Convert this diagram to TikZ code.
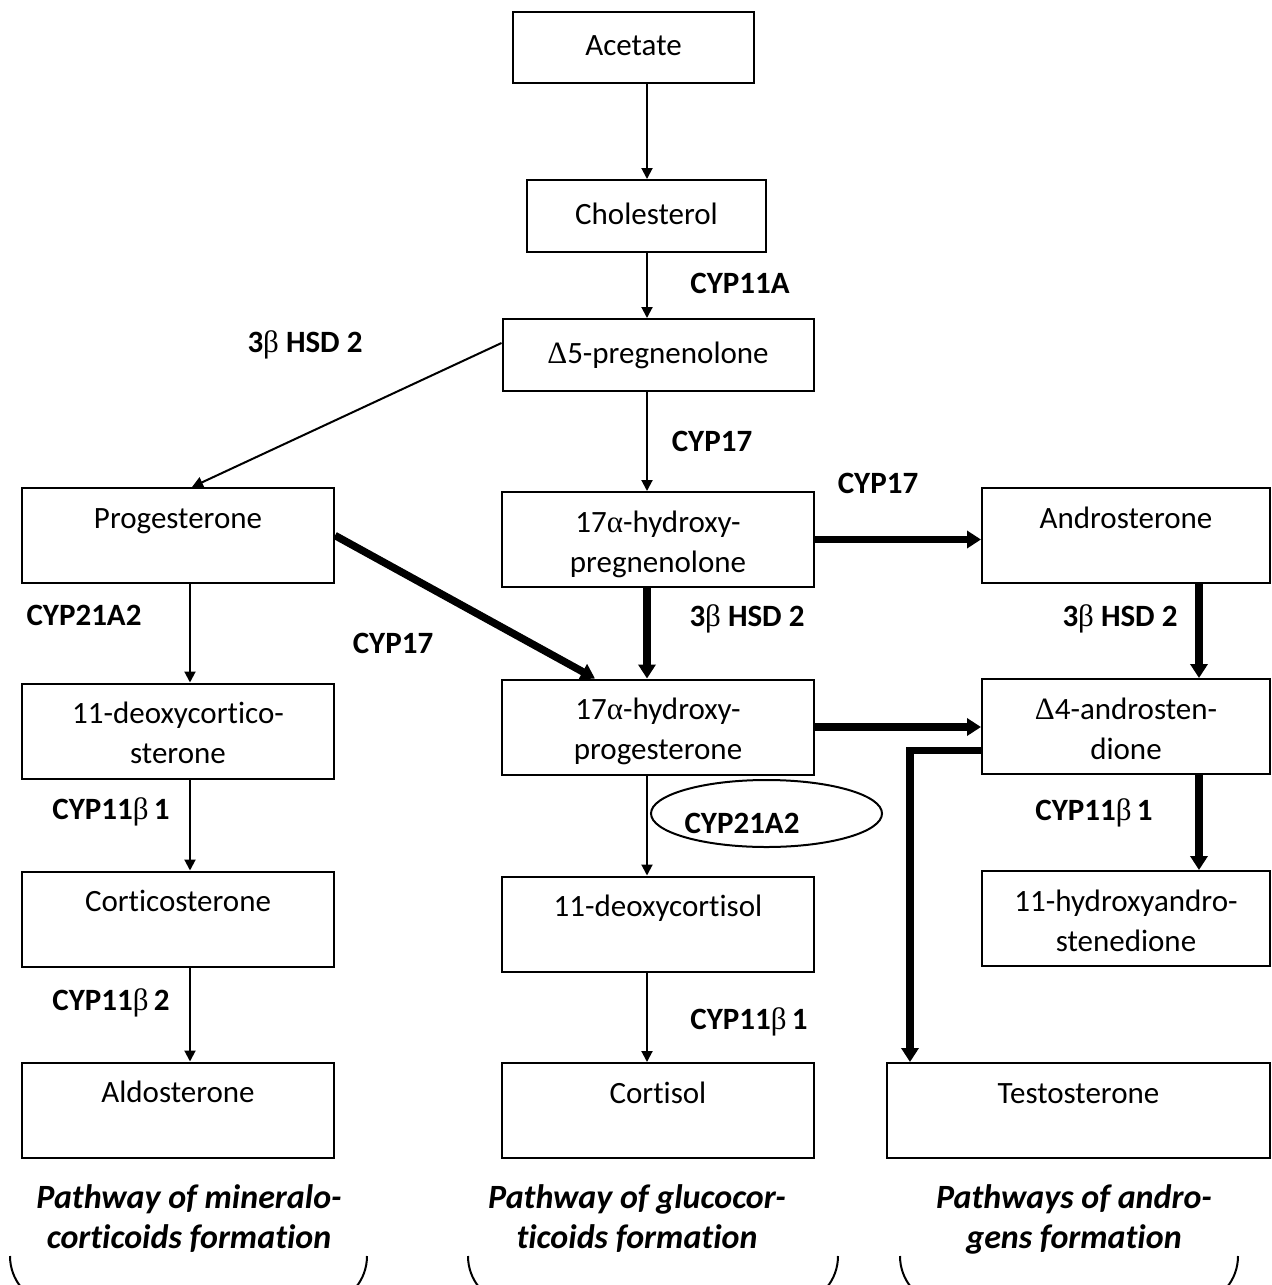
\documentclass[tikz,border=0pt]{standalone}
\usepackage{fontspec}
\setmainfont{Carlito}[Ligatures=CommonOff]
\newfontfamily\grkfont{Liberation Serif}
\newcommand{\grk}[1]{{\grkfont\mdseries #1}}
% first line sits high in the tall boxes, second line may stay empty
\newcommand{\twoline}[2]{\rule{0pt}{17.5pt}#1\\#2\rule[-5pt]{0pt}{5pt}}
\usetikzlibrary{arrows.meta,shapes.geometric}

\begin{document}
\begin{tikzpicture}[x=0.5pt, y=-0.5pt,
    font=\fontsize{15.5}{20}\selectfont,
    box/.style={draw, line width=1pt, inner sep=0pt, align=center, minimum height=47.5pt},
    col/.style={box, minimum width=156pt},
    colR/.style={box, minimum width=144pt},
    enzyme/.style={font=\fontsize{15.5}{20}\selectfont\bfseries, inner sep=0pt},
    thin arrow/.style={-{Triangle[length=5.5pt,width=5.5pt]}, line width=1pt},
    thick arrow/.style={-{Triangle[length=7pt,width=8.5pt]}, line width=3.75pt},
    caption/.style={font=\fontsize{17}{20}\selectfont\bfseries\itshape, align=center, inner sep=0pt}]
    \useasboundingbox (0,0) rectangle (1272,1285);
    \clip (0,0) rectangle (1272,1285);

    % lanes for the vertical arrows
    \coordinate (laneL) at (190,0);
    \coordinate (laneM) at (647,0);
    \coordinate (laneR) at (1199,0);
    \coordinate (laneT) at (910,0);

    % Top of the chain
    \node (Acetate) [box, minimum width=120.5pt, minimum height=35.5pt] at (633.5,47.5) {\strut Acetate};
    \node (Chol) [box, minimum width=119.5pt, minimum height=36pt] at (646.5,216) {\strut Cholesterol};
    \node (Preg) [box, minimum width=155.5pt, minimum height=36pt] at (658,355) {\strut\grk{Δ}5-pregnenolone};

    % Mineralocorticoids
    \node (Prog) [col] at (178,535.5) {\twoline{Progesterone}{}};
    \node (DOC) [col] at (178,731) {\twoline{11-deoxycortico-}{sterone}};
    \node (Cortico) [col] at (178,919) {\twoline{Corticosterone}{}};
    \node (Aldo) [col] at (178,1110) {\twoline{Aldosterone}{}};

    % Glucocorticoids
    \node (OHPreg) [col] at (658,539.5) {\twoline{17\grk{α}-hydroxy-}{pregnenolone}};
    \node (OHProg) [col] at (658,727) {\twoline{17\grk{α}-hydroxy-}{progesterone}};
    \node (DOCortisol) [col] at (658,924) {\twoline{11-deoxycortisol}{}};
    \node (Cortisol) [col] at (658,1110.5) {\twoline{Cortisol}{}};

    % Androgens
    \node (Andro) [colR] at (1126,535.5) {\twoline{Androsterone}{}};
    \node (Adione) [colR] at (1126,726.5) {\twoline{\grk{Δ}4-androsten-}{dione}};
    \node (OHAdione) [colR] at (1126,918.5) {\twoline{11-hydroxyandro-}{stenedione}};
    \node (Testo) [box, minimum width=191.5pt] at (1078.5,1110.5) {\twoline{Testosterone}{}};

    % Enzymes
    \node (cypA) [enzyme] at (740,283) {CYP11A};
    \node (hsdA) [enzyme] at (305,345) {3\grk{β} HSD 2};
    \node (cypB) [enzyme] at (712,441) {CYP17};
    \node (cypC) [enzyme] at (878,483) {CYP17};
    \node (cypD) [enzyme] at (84,615) {CYP21A2};
    \node (cypE) [enzyme] at (393,643) {CYP17};
    \node (hsdB) [enzyme] at (747,619) {3\grk{β} HSD 2};
    \node (hsdC) [enzyme] at (1120,619) {3\grk{β} HSD 2};
    \node (cypF) [enzyme] at (111,812) {CYP11\grk{β}\,1};
    \node (Ring) [draw, ellipse, line width=1pt, inner sep=0pt, minimum width=115.5pt, minimum height=33.5pt] at (766.5,813.5) {};
    \node (cypG) [enzyme] at (742,823) {CYP21A2};
    \node (cypH) [enzyme] at (1094,813) {CYP11\grk{β}\,1};
    \node (cypI) [enzyme] at (111,1003) {CYP11\grk{β}\,2};
    \node (cypJ) [enzyme] at (749,1022) {CYP11\grk{β}\,1};

    % Arrows
    \draw[thin arrow] (Acetate.south -| laneM) -- (Chol.north -| laneM);
    \draw[thin arrow] (Chol.south -| laneM) -- (Preg.north -| laneM);
    \draw[thin arrow] ([yshift=6pt]Preg.west) -- ([xshift=7pt]Prog.north);
    \draw[thin arrow] (Preg.south -| laneM) -- (OHPreg.north -| laneM);
    \draw[thick arrow] (Prog.east) -- ([xshift=-31.5pt]OHProg.north);
    \draw[thick arrow] (OHPreg.south -| laneM) -- (OHProg.north -| laneM);
    \draw[thick arrow] (OHPreg.east) -- (OHPreg.east -| Andro.west);
    \draw[thin arrow] (Prog.south -| laneL) -- (DOC.north -| laneL);
    \draw[thick arrow] (Andro.south -| laneR) -- (Adione.north -| laneR);
    \draw[thick arrow] (OHProg.east) -- (OHProg.east -| Adione.west);
    \draw[thick arrow] ([yshift=-12pt]Adione.west) -| (Testo.north -| laneT);
    \draw[thin arrow] (OHProg.south -| laneM) -- (DOCortisol.north -| laneM);
    \draw[thin arrow] (DOC.south -| laneL) -- (Cortico.north -| laneL);
    \draw[thick arrow] (Adione.south -| laneR) -- (OHAdione.north -| laneR);
    \draw[thin arrow] (Cortico.south -| laneL) -- (Aldo.north -| laneL);
    \draw[thin arrow] (DOCortisol.south -| laneM) -- (Cortisol.north -| laneM);

    % Pathway captions and their brackets
    \node (capM) [caption] at (189,1219) {Pathway of mineralo-\\corticoids formation};
    \node (capG) [caption] at (637,1219) {Pathway of glucocor-\\ticoids formation};
    \node (capA) [caption] at (1074,1219) {Pathways of andro-\\gens formation};
    \foreach \a/\b in {10/367, 468/838, 900/1238}
        \draw[line width=1pt] (\a,1256) to[out=-90,in=180] (\a+40,1301) -- (\b-40,1301) to[out=0,in=-90] (\b,1256);
\end{tikzpicture}
\end{document}
